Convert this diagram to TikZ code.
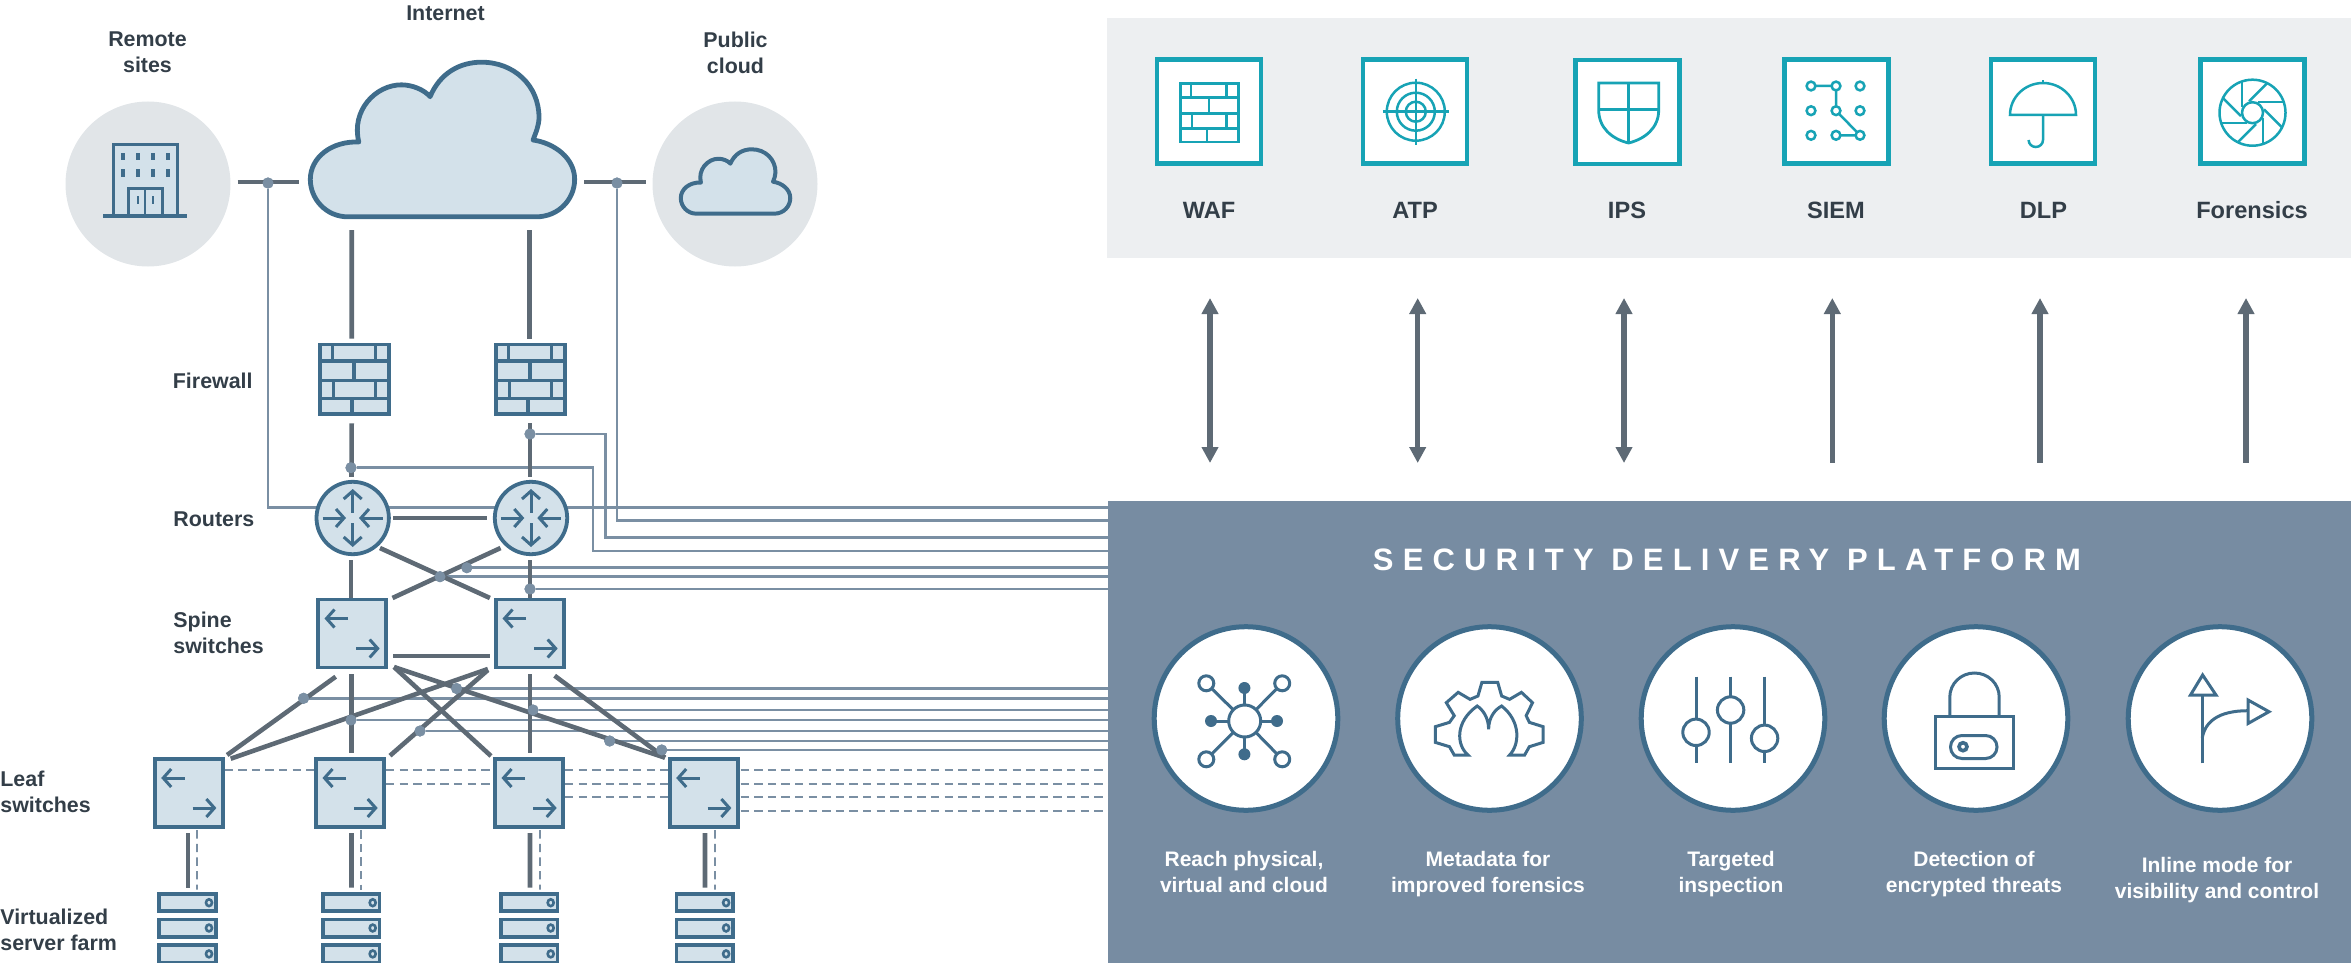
\documentclass[tikz,border=0pt]{standalone}
\usepackage{fontspec}
\setmainfont{Liberation Sans}
\usetikzlibrary{arrows.meta,calc,backgrounds}
\definecolor{txt}{HTML}{333E48}
\definecolor{icblue}{HTML}{3F6C8B}
\definecolor{lightfill}{HTML}{D3E1EA}
\definecolor{darkline}{HTML}{5E6A75}
\definecolor{thinline}{HTML}{7A8FA3}
\definecolor{plate}{HTML}{778CA2}
\definecolor{panelgrey}{HTML}{EDEFF1}
\definecolor{discgrey}{HTML}{E1E5E8}
\definecolor{tealc}{HTML}{17A3B5}
\tikzset{
  lab/.style={font=\fontsize{10.7}{13}\selectfont\bfseries,text=txt,inner sep=0pt,align=center},
  labl/.style={lab,align=left,anchor=west},
  toplab/.style={font=\fontsize{11.8}{14}\selectfont\bfseries,text=txt,inner sep=0pt},
  platlab/.style={font=\fontsize{10.5}{13}\selectfont\bfseries,text=white,inner sep=0pt,align=center},
  ic/.style={draw=icblue,line width=1.5pt},
  swarr/.style={draw=icblue,line width=1.5pt,-{Straight Barb[length=4pt,width=9pt]}},
  boxnode/.style={draw=icblue,fill=lightfill,line width=1.9pt,inner sep=0pt,outer sep=0pt,rectangle},
  fwbox/.style={boxnode,minimum width=34.4pt,minimum height=34.9pt},
  switchbox/.style={boxnode,minimum width=33.9pt,minimum height=34pt},
  routerdisc/.style={boxnode,circle,minimum size=36.2pt},
  serverbox/.style={boxnode,minimum width=28.2pt,minimum height=8.6pt},
  greydisc/.style={circle,fill=discgrey,minimum size=82.5pt,inner sep=0pt,outer sep=0pt},
  teal box/.style={rectangle,draw=tealc,fill=white,line width=2.1pt,inner sep=0pt,outer sep=0pt,minimum width=52pt,minimum height=52pt},
  tealline/.style={draw=tealc,line width=1.25pt},
  whitedisc/.style={circle,draw=icblue,fill=white,line width=2.5pt,minimum size=91.8pt,inner sep=0pt,outer sep=0pt},
  dk/.style={draw=darkline,line width=2.3pt},
  thinl/.style={draw=thinline,line width=1.25pt},
  dashl/.style={draw=thinline,line width=1pt,dash pattern=on 4.2pt off 2.6pt},
  tapdot/.style={circle,fill=thinline,minimum size=5.6pt,inner sep=0pt,outer sep=0pt},
  bigarrow/.style={draw=darkline,line width=2.6pt},
}
\newcommand{\cloudshape}{(347,218) .. controls (325,218) and (309,200) .. (309,180) .. controls (309,158) and (330,141) .. (358,142) .. controls (350,110) and (375,84) .. (401,84) .. controls (412,84) and (424,89) .. (430,96) .. controls (440,72) and (460,61) .. (482,61) .. controls (515,61) and (540,85) .. (540,117) .. controls (540,125) and (537,132) .. (534,140) .. controls (555,143) and (576,158) .. (576,180) .. controls (576,200) and (560,218) .. (537,218) -- cycle}
% #1 node, #2 colour, #3 unit, #4 line width
\newcommand{\brickicon}[4]{%
  \begin{scope}[shift={(#1.north west)},x=#3,y=-#3]
    \draw[draw=#2,line width=#4]
      (0,16.2) -- (67.7,16.2) (0,35.2) -- (67.7,35.2) (0,53.2) -- (67.7,53.2)
      (12.5,0) -- (12.5,16.2) (54.5,0) -- (54.5,16.2)
      (33.5,16.2) -- (33.5,35.2)
      (13.5,35.2) -- (13.5,53.2) (54.5,35.2) -- (54.5,53.2)
      (31.5,53.2) -- (31.5,69.3);
  \end{scope}}
\newcommand{\swicon}[1]{%
  \draw[swarr] ($(#1.center)+(-4,-15)$) -- ($(#1.center)+(-27.5,-15)$);
  \draw[swarr] ($(#1.center)+(4,15)$) -- ($(#1.center)+(27.7,15)$);}
\newcommand{\routericon}[1]{%
  \draw[swarr] ($(#1.center)+(0,-5.3)$) -- ($(#1.center)+(0,-29)$);
  \draw[swarr] ($(#1.center)+(0,5)$) -- ($(#1.center)+(0,29)$);
  \draw[swarr] ($(#1.center)+(-30,0)$) -- ($(#1.center)+(-6.7,0)$);
  \draw[swarr] ($(#1.center)+(30,0)$) -- ($(#1.center)+(6.3,0)$);}
\begin{document}
\begin{tikzpicture}[x=0.5pt,y=-0.5pt]
\path[use as bounding box] (0,0) rectangle (2351,963);

% panels
\node[fill=panelgrey,minimum width=622pt,minimum height=120pt,inner sep=0pt,outer sep=0pt] (panel) at (1729,138) {};
\node[fill=plate,minimum width=621.5pt,minimum height=231pt,inner sep=0pt,outer sep=0pt] (plat) at (1729.5,732) {};

% left labels
\node[lab] (tremote) at (147.5,52.5) {Remote\\sites};
\node[lab] (tinternet) at (445.5,13) {Internet};
\node[lab] (tpublic) at (735.5,52.5) {Public\\cloud};
\node[labl] (tfirewall) at (172.5,381) {Firewall};
\node[labl] (trouters) at (173,519) {Routers};
\node[labl] (tspine) at (173,633) {Spine\\switches};
\node[labl] (tleaf) at (0,791.5) {Leaf\\switches};
\node[labl] (tfarm) at (0,929.5) {Virtualized\\server farm};

% sites and cloud
\node[greydisc] (rem) at (148,184) {};
\node[greydisc] (pub) at (735,184) {};
\node[minimum width=133.5pt,minimum height=78.5pt,inner sep=0pt,outer sep=0pt] (cloud) at (442.5,139.5) {};
\begin{scope}[shift={(4.4,2.1)},xscale=.99,yscale=.985]
  \draw[draw=icblue,fill=lightfill,line width=2.4pt,line join=round] \cloudshape;
\end{scope}
\begin{scope}[shift={(554.1,124.3)},xscale=.41,yscale=.41]
  \draw[draw=icblue,fill=lightfill,line width=2pt,line join=round] \cloudshape;
\end{scope}
% building
\draw[ic,fill=lightfill] (113.5,216) -- (113.5,144.5) -- (177.5,144.5) -- (177.5,216);
\draw[ic,fill=lightfill] (128,216) -- (128,188.5) -- (162.5,188.5) -- (162.5,216);
\draw[ic,line width=1pt] (145.2,189) -- (145.2,216);
\draw[ic,line width=2pt] (103,216) -- (187,216);
\foreach \wx in {123,138,153,168}{
  \foreach \wy in {157,173}{\fill[icblue] (\wx-1.7,\wy-3.5) rectangle (\wx+1.7,\wy+3.5);}}
\foreach \wx in {138,153}{\fill[icblue] (\wx-1,196) rectangle (\wx+1,204);}

% equipment
\node[fwbox] (fw1) at (354.3,379.4) {};
\node[fwbox] (fw2) at (530.3,379.4) {};
\brickicon{fw1}{icblue}{0.508pt}{1.75pt}
\brickicon{fw2}{icblue}{0.508pt}{1.75pt}
\node[routerdisc] (r1) at (352.7,518) {};
\node[routerdisc] (r2) at (531,518) {};
\routericon{r1}\routericon{r2}
\node[switchbox] (sp1) at (352,633.5) {};
\node[switchbox] (sp2) at (530,633.5) {};
\node[switchbox] (l1) at (188.7,793) {};
\node[switchbox] (l2) at (350,793) {};
\node[switchbox] (l3) at (529,793) {};
\node[switchbox] (l4) at (703.7,793) {};
\swicon{sp1}\swicon{sp2}\swicon{l1}\swicon{l2}\swicon{l3}\swicon{l4}
\foreach \n/\cx in {1/187.5,2/351.2,3/529.2,4/704.6}{
  \foreach \m/\cy in {1/902.7,2/928,3/953.9}{
    \node[serverbox] (s\n\m) at (\cx,\cy) {};
    \draw[draw=icblue,line width=1.3pt] (\cx+21.5,\cy) circle[x radius=3,y radius=3.4];
  }}

% tap dots
\foreach \nm/\px/\py in {d1/268/183,d2/617/183,d3/530/434,d4/351/467.7,d5/466.8/567.7,d6/440/576.7,d7/530/589,
  d8/456.6/688.5,d9/303.6/698.3,d10/533/710,d11/351/720,d12/420/731,d13/609.7/741,d14/661.7/750}
  \node[tapdot] (\nm) at (\px,\py) {};

% thin tap lines behind the equipment
\begin{scope}[on background layer]
  \coordinate (v1) at ($(plat.north west)+(0,6.5)$);
  \coordinate (v2) at ($(plat.north west)+(0,19.7)$);
  \coordinate (v3) at (605.7,537.7);
  \coordinate (v4) at (593,551);
  \draw[thinl] (d1) |- (v1);
  \draw[thinl] (d2) |- (v2);
  \draw[thinl] (d3) -| (v3) -- (v3 -| plat.west);
  \draw[thinl] (d4) -| (v4) -- (v4 -| plat.west);
  \foreach \nm in {d5,d6,d7,d8,d9,d10,d11,d12,d13,d14}
    \draw[thinl] (\nm) -- (\nm -| plat.west);
\end{scope}

% dark links
\draw[dk] ($(rem.east)+(7,-2)$) -- ($(cloud.west)+(-10,42.5)$);
\draw[dk] ($(cloud.east)+(8,42.5)$) -- ($(pub.west)+(-7,-2)$);
\draw[dk] ($(cloud.south)+(-90.8,12)$) -- ($(fw1.north)+(-2.6,-5.8)$);
\draw[dk] ($(cloud.south)+(87,12)$) -- ($(fw2.north)+(-0.8,-5.8)$);
\draw[dk] ($(fw1.south)+(-2.6,9)$) -- ($(r1.north)+(-1.2,-5)$);
\draw[dk] ($(fw2.south)+(-0.3,9)$) -- ($(r2.north)+(-1,-5)$);
\draw[dk] ($(r1.east)+(4.4,0)$) -- ($(r2.west)+(-7.4,0)$);
\draw[dk] ($(r1.south)+(-1.7,6)$) -- ($(sp1.north)+(-1,-1.5)$);
\draw[dk] ($(r2.south)+(-1,6)$) -- ($(sp2.north)+(0,-1.5)$);
\draw[dk] ($(r1.-50)+(4,2.3)$) -- ($(sp2.north west)+(-6.2,-1.5)$);
\draw[dk] ($(r2.-130)+(-7.2,2.3)$) -- ($(sp1.north east)+(6.6,-1.5)$);
\draw[dk] ($(sp1.east)+(7.1,22.5)$) -- ($(sp2.west)+(-6.2,22.5)$);
\draw[dk] ($(sp1.south)+(-16.3,9.2)$) -- ($(l1.north east)+(4.5,-4)$);
\draw[dk] ($(sp2.south west)+(-8.2,1.5)$) -- ($(l1.north east)+(8.1,-0.3)$);
\draw[dk] ($(sp1.south)+(-0.5,6.5)$) -- ($(l2.north)+(1.5,-6)$);
\draw[dk] ($(sp2.south west)+(-8.2,2.5)$) -- ($(l2.north east)+(6.1,-3.3)$);
\draw[dk] ($(sp1.south east)+(8.1,-0.5)$) -- ($(l3.north west)+(-4.1,-3)$);
\draw[dk] ($(sp2.south)+(0,6.5)$) -- ($(l3.north)+(1,-6)$);
\draw[dk] ($(sp1.south east)+(8.1,-0.5)$) -- ($(l4.north west)+(-4.8,-1.3)$);
\draw[dk] ($(sp2.south)+(24.6,8.2)$) -- ($(l4.north west)+(-4.8,-1.3)$);

% redraw dots on top of the dark links
\foreach \nm in {d1,d2,d3,d4,d5,d6,d7,d8,d9,d10,d11,d12,d13,d14}
  \fill[thinline] (\nm) circle[radius=5.5];

% leaf to server
\foreach \l/\s/\ax/\bx/\cx/\dx in {l1/s11/-0.9/0.3/8.3/9.5,l2/s21/1.5/0.3/10.7/9.5,l3/s31/1/0.8/11/10.8,l4/s41/1.3/0.4/11.3/10.4}{
  \draw[dk] ($(\l.south)+(\ax,6)$) -- ($(\s.north)+(\bx,-6.5)$);
  \draw[dashl,line width=.9pt] ($(\l.south)+(\cx,3.2)$) -- ($(\s.north)+(\dx,-4.5)$);
}
% dashed leaf links
\draw[dashl] ($(l1.east)+(2,-23)$) -- ($(l2.west)+(-2,-23)$);
\foreach \dy in {-23,-9}
  \draw[dashl] ($(l2.east)+(2,\dy)$) -- ($(l3.west)+(-2,\dy)$);
\foreach \dy in {-23,-9,4.3}
  \draw[dashl] ($(l3.east)+(2,\dy)$) -- ($(l4.west)+(-2,\dy)$);
\foreach \i/\dy in {1/-23,2/-9,3/4.3,4/18}{
  \path ($(l4.east)+(3,\dy)$) coordinate (q\i);
  \draw[dashl] (q\i) -- (q\i -| plat.west);
}

% top icons
\node[teal box] (waf) at (1209.3,111.5) {};
\node[teal box] (atp) at (1415,111.5) {};
\node[teal box] (ips) at (1627.5,112) {};
\node[teal box] (siem) at (1836.5,111.5) {};
\node[teal box] (dlp) at (2043,111.5) {};
\node[teal box] (fore) at (2252.5,111.5) {};
\node[toplab] (twaf) at (1209,210) {WAF};
\node[toplab] (tatp) at (1415,210) {ATP};
\node[toplab] (tips) at (1627,210) {IPS};
\node[toplab] (tsiem) at (1836,210) {SIEM};
\node[toplab] (tdlp) at (2043.5,210) {DLP};
\node[toplab] (tfore) at (2252,210) {Forensics};
% WAF
\node[rectangle,draw=tealc,line width=1.25pt,minimum width=29pt,minimum height=29.2pt,inner sep=0pt,outer sep=0pt] (wafbrick) at (1209.3,112.7) {};
\brickicon{wafbrick}{tealc}{0.425pt}{1.25pt}
% ATP
\foreach \rr in {29,19,10}\draw[tealline] (1415.8,111.7) circle[radius=\rr];
\draw[tealline] (1382.8,111.7) -- (1448.8,111.7) (1415.8,78.7) -- (1415.8,144.7);
% IPS
\draw[tealline,line width=1.4pt] (1598.7,83) -- (1658.7,83) -- (1658.7,110) .. controls (1658.7,128) and (1645,139) .. (1628.5,143) .. controls (1612,139) and (1598.7,128) .. (1598.7,110) -- cycle;
\draw[tealline,line width=1.4pt] (1628.5,83) -- (1628.5,143) (1598.7,109.5) -- (1658.7,109.5);
% SIEM
\draw[tealline] (1811,86) -- (1836,86) -- (1836,110.7) -- (1860,135.3) -- (1836,135.3);
\foreach \sx in {1811,1836,1860}\foreach \sy in {86,110.7,135.3}
  \draw[tealline,fill=white] (\sx,\sy) circle[radius=4.4];
% DLP
\draw[tealline] (2010,115) arc[start angle=180,end angle=360,x radius=33,y radius=32] -- cycle;
\draw[tealline] (2043,83) -- (2043,80.5);
\draw[tealline] (2043,115) -- (2043,140) arc[start angle=0,end angle=180,x radius=7.2,y radius=7];
% Forensics
\draw[tealline] (2252.5,112.7) circle[radius=33];
\draw[tealline] (2252.5,112.7) circle[radius=10.5];
\foreach \a in {0,45,...,315}
  \draw[tealline,rotate around={\a:(2252.5,112.7)}] (2242,81.4) -- (2242,107);

% vertical arrows
\foreach \ox in {102,309.7,516}
  \draw[bigarrow,{Triangle[length=8pt,width=8pt]}-{Triangle[length=8pt,width=8pt]},darkline] ($(panel.south west)+(\ox+1,40)$) -- ($(plat.north west)+(\ox,-38)$);
\foreach \ox in {724.3,932,1138}
  \draw[bigarrow,{Triangle[length=8pt,width=8pt]}-,darkline] ($(panel.south west)+(\ox+1,40)$) -- ($(plat.north west)+(\ox,-38)$);

% platform
\node[inner sep=0pt,text=white,font=\fontsize{15.5}{18}\selectfont\bfseries\addfontfeature{LetterSpace=29.5}] (ttitle) at (1727,560) {SECURITY DELIVERY PLATFORM};
\node[whitedisc] (c1) at (1246,718.5) {};
\node[whitedisc] (c2) at (1489.5,718.5) {};
\node[whitedisc] (c3) at (1733,718.5) {};
\node[whitedisc] (c4) at (1976,718.5) {};
\node[whitedisc] (c5) at (2220,718.5) {};
\node[platlab] (tc1) at (1244,872) {Reach physical,\\virtual and cloud};
\node[platlab] (tc2) at (1488,874) {Metadata for\\improved forensics};
\node[platlab] (tc3) at (1731,874) {Targeted\\inspection};
\node[platlab] (tc4) at (1974,874) {Detection of\\encrypted threats};
\node[platlab] (tc5) at (2217,880) {Inline mode for\\visibility and control};
% hub icon
\foreach \ex/\ey in {1206.3/683.3,1282.2/683.3,1206.3/759.3,1282.2/759.3,1244.7/688,1244.7/754.3,1211/721,1277/721}
  \draw[ic] (1244.7,721) -- (\ex,\ey);
\draw[ic,fill=white] (1244.7,721) circle[radius=16];
\foreach \ex/\ey in {1206.3/683.3,1282.2/683.3,1206.3/759.3,1282.2/759.3}
  \draw[ic,fill=white] (\ex,\ey) circle[radius=7.5];
\foreach \ex/\ey in {1244.4/688,1244.4/754.3,1211/721,1277/721}
  \fill[icblue] (\ex,\ey) circle[radius=6];
% gear icon
\begin{scope}[shift={(1130,610)},x=0.1977pt,y=-0.1667pt]
\draw[ic,line join=miter] (820,435) -- (808,410) -- (772,397) -- (772,350) -- (808,337) -- (820,317) -- (800,278) -- (830,247) -- (860,268) -- (880,258) -- (890,217) -- (930,217) -- (940,258) -- (960,268) -- (990,247) -- (1018,278) -- (1002,317) -- (1010,337) -- (1045,350) -- (1045,397) -- (1010,410) -- (998,435) -- (960,435)
 .. controls (985,405) and (990,335) .. (940,288) .. controls (925,297) and (907,320) .. (907,358) .. controls (907,320) and (890,297) .. (878,288) .. controls (822,335) and (825,405) .. (855,435) -- cycle;
\end{scope}
% slider icon
\foreach \sx/\sy in {1696/732.3,1730.6/710,1764.6/738.3}{
  \draw[ic] (\sx,676.7) -- (\sx,762.7);
  \draw[ic,fill=white] (\sx,\sy) circle[radius=13.2];
}
% lock icon
\draw[ic] (1949.8,715) -- (1949.8,697) arc[start angle=180,end angle=360,x radius=24.7,y radius=24] -- (1999.2,715);
\draw[ic] (1935.5,716.5) rectangle (2013,768);
\draw[ic,rounded corners=5.7pt] (1950.5,735.5) rectangle (1997,758.5);
\draw[ic,line width=1.8pt] (1963,746.7) circle[radius=4];
% branch icon
\draw[ic] (2202.2,763.3) -- (2202.2,696);
\draw[ic] (2202.6,675) -- (2190.5,695) -- (2216,695) -- cycle;
\draw[ic] (2202.2,738) .. controls (2205,722) and (2218,710.7) .. (2248,710.7);
\draw[ic] (2248,700) -- (2248,723.5) -- (2269,711.7) -- cycle;
\end{tikzpicture}
\end{document}
